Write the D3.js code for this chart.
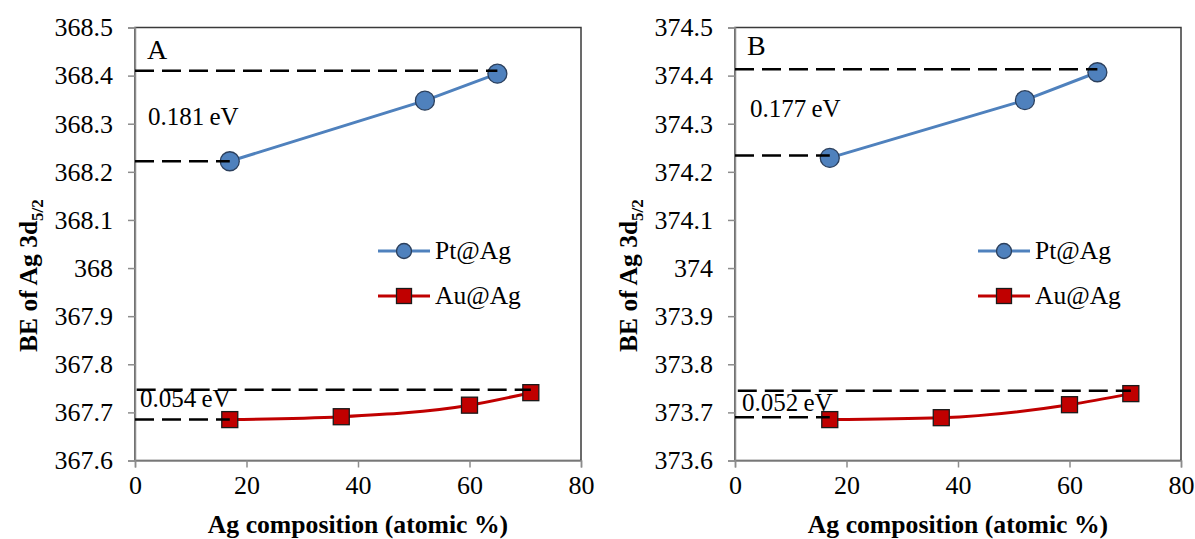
<!DOCTYPE html>
<html>
<head>
<meta charset="utf-8">
<script src="https://cdn.jsdelivr.net/npm/d3@7"></script>
<style>
  html, body { margin: 0; padding: 0; background: #ffffff; }
  svg { display: block; }
  text { font-family: "Liberation Serif", "Times New Roman", serif; fill: #000; }
</style>
</head>
<body>
<svg id="chart" width="1195" height="539"></svg>
<script>
// ---------------- data ----------------
const xTicks = [0, 20, 40, 60, 80];
const panelNames = ["A", "B"];
const yDomainA = [367.6, 368.5];
const yDomainB = [373.6, 374.5];
const yTicksA = [367.6, 367.7, 367.8, 367.9, 368.0, 368.1, 368.2, 368.3, 368.4, 368.5];
const yTicksB = [373.6, 373.7, 373.8, 373.9, 374.0, 374.1, 374.2, 374.3, 374.4, 374.5];
const seriesNames = ["Pt@Ag", "Au@Ag"];
const ptX = [17, 52, 65];
const ptA = [368.222, 368.348, 368.404];
const ptB = [374.229, 374.349, 374.407];
const auX = [17, 37, 60, 71];
const auA = [367.685, 367.691, 367.715, 367.741];
const auB = [373.685, 373.689, 373.716, 373.739];
// reference (dashed) lines: [x start, x end, y]
const refA = [[0, 65, 368.410], [0, 17, 368.222], [0.3, 71, 367.747], [0, 17, 367.685]];
const refB = [[0, 65, 374.413], [0, 17, 374.234], [0.5, 71, 373.745], [0, 17, 373.690]];
const annotA = ["0.181 eV", "0.054 eV"];
const annotB = ["0.177 eV", "0.052 eV"];
const xTitle = "Ag composition (atomic %)";

// ---------------- layout ----------------
const panels = [
  { name: panelNames[0], left: 135, yDom: yDomainA, yTicks: yTicksA, pt: ptA, au: auA, ref: refA, annot: annotA,
    nameY: 59, annotPos: [[13, 125], [5, 407]] },
  { name: panelNames[1], left: 735, yDom: yDomainB, yTicks: yTicksB, pt: ptB, au: auB, ref: refB, annot: annotB,
    nameY: 55, annotPos: [[15, 117], [7, 411]] }
];
const plotW = 446, plotTop = 27.5, plotBottom = 460.5;
const blue = "#4F81BD", red = "#C00000";

const svg = d3.select("#chart");

panels.forEach(p => {
  const x = d3.scaleLinear().domain([0, 80]).range([p.left, p.left + plotW]);
  const y = d3.scaleLinear().domain(p.yDom).range([plotBottom, plotTop]);
  const g = svg.append("g");

  // plot area frame (top / right dark)
  g.append("rect")
    .attr("x", p.left).attr("y", plotTop)
    .attr("width", plotW).attr("height", plotBottom - plotTop)
    .attr("fill", "none").attr("stroke", "#3a3a3a").attr("stroke-width", 1.5);

  // y axis
  const yAxis = d3.axisLeft(y).tickValues(p.yTicks).tickSize(7).tickPadding(15)
    .tickFormat(d => String(+d.toFixed(1)));
  const ya = g.append("g").attr("transform", `translate(${p.left},0)`).call(yAxis);
  ya.select(".domain").attr("stroke", "#8c8c8c").attr("stroke-width", 1.5);
  ya.selectAll(".tick line").attr("stroke", "#8c8c8c").attr("stroke-width", 1.5);
  ya.selectAll(".tick text").attr("font-size", 26).attr("fill", "#000");

  // x axis
  const xAxis = d3.axisBottom(x).tickValues(xTicks).tickSize(7).tickPadding(8);
  const xa = g.append("g").attr("transform", `translate(0,${plotBottom})`).call(xAxis);
  xa.select(".domain").attr("stroke", "#8c8c8c").attr("stroke-width", 1.5);
  xa.selectAll(".tick line").attr("stroke", "#8c8c8c").attr("stroke-width", 1.5);
  xa.selectAll(".tick text").attr("font-size", 26).attr("fill", "#000");

  // x title
  g.append("text")
    .attr("x", p.left + plotW / 2).attr("y", 533)
    .attr("text-anchor", "middle").attr("font-size", 25.7).attr("font-weight", "bold")
    .text(xTitle);

  // y title
  const yt = g.append("text")
    .attr("transform", `translate(${p.left - 98},352) rotate(-90)`)
    .attr("text-anchor", "start").attr("font-size", 25.5).attr("font-weight", "bold");
  yt.append("tspan").text("BE of Ag 3d");
  yt.append("tspan").attr("font-size", 17).attr("dy", 6).text("5/2");

  // series lines
  const linePt = d3.line().x((d, i) => x(ptX[i])).y(d => y(d));
  const lineAu = d3.line().x((d, i) => x(auX[i])).y(d => y(d)).curve(d3.curveMonotoneX);
  g.append("path").attr("d", linePt(p.pt)).attr("fill", "none").attr("stroke", blue).attr("stroke-width", 3);
  g.append("path").attr("d", lineAu(p.au)).attr("fill", "none").attr("stroke", red).attr("stroke-width", 3);

  // markers
  g.selectAll(".ptm").data(p.pt).enter().append("circle")
    .attr("cx", (d, i) => x(ptX[i])).attr("cy", d => y(d)).attr("r", 9.5)
    .attr("fill", blue).attr("stroke", "#2b3f5c").attr("stroke-width", 1.3);
  g.selectAll(".aum").data(p.au).enter().append("rect")
    .attr("x", (d, i) => x(auX[i]) - 8).attr("y", d => y(d) - 8)
    .attr("width", 16).attr("height", 16)
    .attr("fill", red).attr("stroke", "#1a1a1a").attr("stroke-width", 1.3);

  // dashed reference lines
  g.selectAll(".ref").data(p.ref).enter().append("line")
    .attr("x1", d => x(d[0])).attr("x2", d => x(d[1]))
    .attr("y1", d => y(d[2])).attr("y2", d => y(d[2]))
    .attr("stroke", "#000").attr("stroke-width", 2.5).attr("stroke-dasharray", "19,8");

  // panel label
  g.append("text").attr("x", p.left + 12).attr("y", p.nameY).attr("font-size", 28).text(p.name);

  // annotations
  p.annot.forEach((t, i) => {
    g.append("text").attr("x", p.left + p.annotPos[i][0]).attr("y", p.annotPos[i][1])
      .attr("font-size", 25).attr("word-spacing", -1).text(t);
  });

  // legend
  const lg = g.append("g").attr("transform", `translate(${p.left + 243},0)`);
  const legY = [251, 296];
  seriesNames.forEach((s, i) => {
    const col = i === 0 ? blue : red;
    lg.append("line").attr("x1", 0).attr("x2", 52).attr("y1", legY[i]).attr("y2", legY[i])
      .attr("stroke", col).attr("stroke-width", 3);
    if (i === 0) {
      lg.append("circle").attr("cx", 26).attr("cy", legY[i]).attr("r", 7.5)
        .attr("fill", blue).attr("stroke", "#2b3f5c").attr("stroke-width", 1.3);
    } else {
      lg.append("rect").attr("x", 26 - 7.5).attr("y", legY[i] - 7.5).attr("width", 15).attr("height", 15)
        .attr("fill", red).attr("stroke", "#1a1a1a").attr("stroke-width", 1.3);
    }
    lg.append("text").attr("x", 57).attr("y", legY[i] + 8).attr("font-size", 25.5).text(s);
  });
});
</script>
</body>
</html>
